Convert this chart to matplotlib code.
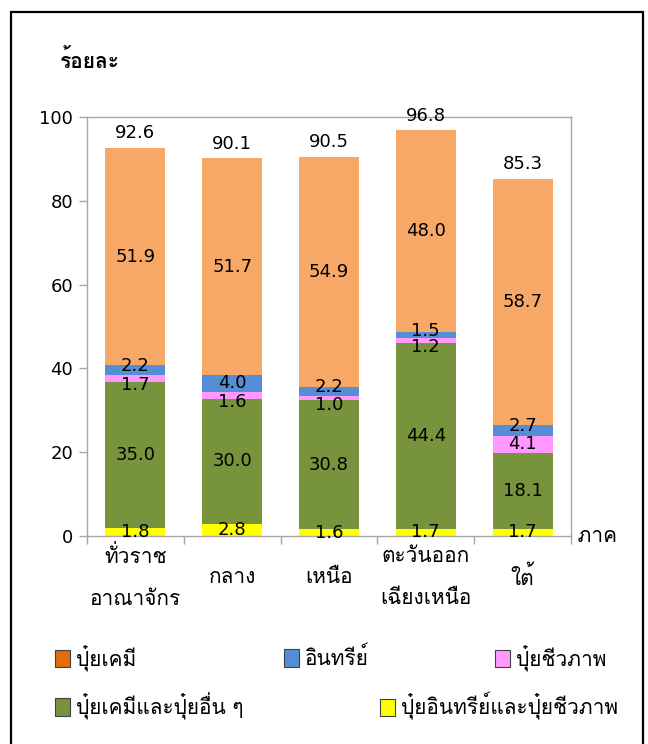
import matplotlib
matplotlib.use("Agg")
import matplotlib.pyplot as plt
from matplotlib.patches import Rectangle, Patch
import matplotlib.transforms as mtransforms

plt.rcParams['font.family'] = ['DejaVu Sans', 'Loma', 'Noto Sans Thai Looped']

regions = ['ทั่วราช\nอาณาจักร', 'กลาง', 'เหนือ', 'ตะวันออก\nเฉียงเหนือ', 'ใต้']
# stacked from bottom to top
organic_bio = [1.8, 2.8, 1.6, 1.7, 1.7]      # ปุ๋ยอินทรีย์และปุ๋ยชีวภาพ
chem_other = [35.0, 30.0, 30.8, 44.4, 18.1]  # ปุ๋ยเคมีและปุ๋ยอื่น ๆ
bio = [1.7, 1.6, 1.0, 1.2, 4.1]              # ปุ๋ยชีวภาพ
organic = [2.2, 4.0, 2.2, 1.5, 2.7]          # อินทรีย์
chem = [51.9, 51.7, 54.9, 48.0, 58.7]        # ปุ๋ยเคมี
totals = [92.6, 90.1, 90.5, 96.8, 85.3]

series = [
    ('ปุ๋ยอินทรีย์และปุ๋ยชีวภาพ', organic_bio, '#FFFF00', '#FFFF00'),
    ('ปุ๋ยเคมีและปุ๋ยอื่น ๆ', chem_other, '#77933C', '#77933C'),
    ('ปุ๋ยชีวภาพ', bio, '#FF99FF', '#FF99FF'),
    ('อินทรีย์', organic, '#558ED5', '#558ED5'),
    ('ปุ๋ยเคมี', chem, '#F7A866', '#E46C0A'),
]

fig = plt.figure(figsize=(6.48, 7.44), dpi=100)
ax = fig.add_axes([87/648, 1-536/744, (571-87)/648, 419/744])

x = list(range(len(regions)))
bottom = [0.0]*len(regions)
for name, vals, col, _ in series:
    ax.bar(x, vals, 0.62, bottom=bottom, color=col, edgecolor='none', zorder=2)
    for i, (b, v) in enumerate(zip(bottom, vals)):
        dy = 0
        if name == 'อินทรีย์' and v < 3:
            dy = 3
        if name == 'ปุ๋ยชีวภาพ' and v < 3:
            dy = -5
        ax.annotate(f'{v:.1f}', (i, b + v/2), xytext=(0, dy), textcoords='offset points',
                    ha='center', va='center', fontsize=13, zorder=3)
    bottom = [b + v for b, v in zip(bottom, vals)]

for i, t in enumerate(totals):
    ax.annotate(f'{t:.1f}', (i, t), xytext=(0, 4), textcoords='offset points',
                ha='center', va='bottom', fontsize=13)

ax.set_xlim(-0.5, len(regions) - 0.5)
ax.set_ylim(0, 100)
ax.set_yticks([0, 20, 40, 60, 80, 100])
ax.tick_params(axis='y', labelsize=13, length=6, width=1, color='#A6A6A6', pad=4)
ax.set_xticks([i - 0.5 for i in range(len(regions) + 1)])
ax.set_xticklabels([])
ax.tick_params(axis='x', length=6, width=1, color='#A6A6A6')
for s in ax.spines.values():
    s.set_color('#A6A6A6')
    s.set_linewidth(1)

trans = mtransforms.blended_transform_factory(ax.transData, ax.transAxes)
for i, r in enumerate(regions):
    ax.text(i, -0.098, r, transform=trans, ha='center', va='center',
            fontsize=15, linespacing=2.35)

ax.text(1.0, 0.0, ' ภาค', transform=ax.transAxes, ha='left', va='center', fontsize=15)
fig.text(60/648, 1-60/744, 'ร้อยละ', ha='left', va='center', fontsize=15, fontweight='bold')

# legend items placed like the original
legend_pos = {
    'ปุ๋ยเคมี': (55, 658),
    'อินทรีย์': (284, 658),
    'ปุ๋ยชีวภาพ': (495, 658),
    'ปุ๋ยเคมีและปุ๋ยอื่น ๆ': (55, 706),
    'ปุ๋ยอินทรีย์และปุ๋ยชีวภาพ': (380, 706),
}
for name, vals, col, lcol in series:
    px, py = legend_pos[name]
    h = Patch(facecolor=lcol, edgecolor='#404040', linewidth=0.8)
    fig.legend([h], [name], loc='center left', bbox_to_anchor=(px/648, 1-py/744),
               frameon=False, fontsize=15, handlelength=0.7, handleheight=0.9,
               handletextpad=0.3, borderpad=0, borderaxespad=0)

fig.patches.append(Rectangle((11/648, -0.1), (643-11)/648, 1.1 - 12/744, transform=fig.transFigure,
                             fill=False, edgecolor='black', linewidth=1.6))

fig.savefig('out.png', dpi=100)
